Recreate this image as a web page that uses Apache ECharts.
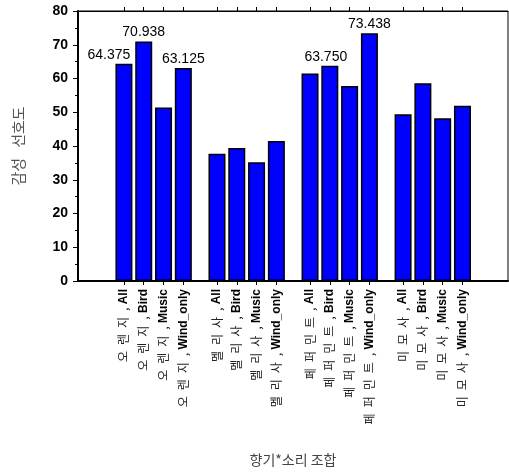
<!DOCTYPE html>
<html><head><meta charset="utf-8">
<script src="https://cdn.jsdelivr.net/npm/echarts@6/dist/echarts.min.js"></script>
<style>html,body{margin:0;padding:0;background:#fff}#c{width:509px;height:472px}</style>
</head><body><div id="c"></div>
<script>
const scents = ['오렌지', '멜리사', '페퍼민트', '미모사'];
const sounds = ['All', 'Bird', 'Music', 'Wind_only'];
const values = [
  [64.375, 70.938, 51.4, 63.125],
  [37.7, 39.4, 35.2, 41.5],
  [61.5, 63.750, 57.8, 73.438],
  [49.4, 58.6, 48.2, 51.9]
];
const labeled = [
  [true, true, false, true],
  [false, false, false, false],
  [false, true, false, true],
  [false, false, false, false]
];
const yTicks = [0, 10, 20, 30, 40, 50, 60, 70, 80];

const GROUP_STEP = 4.7;
const positions = [], labelMap = {}, data = [];
scents.forEach((s, g) => {
  sounds.forEach((snd, i) => {
    const x = +(g * GROUP_STEP + i).toFixed(2);
    positions.push(x);
    labelMap[Math.round(x * 100)] = {k: s.split('').join('\u2002'), e: snd};
    const item = {value: [x, values[g][i]]};
    if (labeled[g][i]) {
      item.label = {show: true};
      if (g === 0 && i === 0) item.label.offset = [-15, 0];
      if (g === 2 && i === 1) item.label.offset = [-4, 0];
    }
    data.push(item);
  });
});
const xMin = -2.32, xMax = positions[positions.length - 1] + 2.3;

const chart = echarts.init(document.getElementById('c'));
chart.setOption({
  animation: false,
  grid: {left: 78, right: 1, top: 11, bottom: 191, show: true, borderColor: '#000', borderWidth: 1,
         containLabel: false, outerBoundsMode: 'none'},
  xAxis: [{
    type: 'value', min: xMin, max: xMax, position: 'bottom',
    splitLine: {show: false},
    axisLine: {show: true, onZero: false, lineStyle: {color: '#000', width: 2}},
    axisTick: {show: true, customValues: positions, length: 4, lineStyle: {color: '#000'}},
    axisLabel: {
      customValues: positions, rotate: 90, margin: 8,
      formatter: v => { const l = labelMap[Math.round(v * 100)]; return l ? '{k|' + l.k + '\u2002,}{e| ' + l.e + '}' : ''; },
      rich: {
        k: {fontFamily: 'Noto Sans CJK KR', fontSize: 12, color: '#222'},
        e: {fontFamily: 'Liberation Sans, Arial', fontSize: 12, fontWeight: 'bold', color: '#000'}
      }
    },
    name: '향기*소리 조합', nameLocation: 'middle', nameGap: 172,
    nameTextStyle: {fontFamily: 'Noto Sans CJK KR', fontSize: 14, color: '#444'}
  }, {
    type: 'value', min: xMin, max: xMax, position: 'top',
    splitLine: {show: false},
    axisLine: {show: true, onZero: false, lineStyle: {color: '#000', width: 1}},
    axisTick: {show: true, customValues: positions, length: 4, lineStyle: {color: '#000'}},
    axisLabel: {show: false}
  }],
  yAxis: {
    type: 'value', min: yTicks[0], max: yTicks[yTicks.length - 1], interval: 10,
    splitLine: {show: false},
    axisLine: {show: true, onZero: false, lineStyle: {color: '#000', width: 2}},
    axisTick: {show: true, length: 5, lineStyle: {color: '#000'}},
    minorTick: {show: true, splitNumber: 2, length: 3, lineStyle: {color: '#000'}},
    axisLabel: {margin: 10, fontFamily: 'Liberation Sans, Arial', fontSize: 14, fontWeight: 'bold', color: '#000'},
    name: '감성   선호도', nameLocation: 'middle', nameRotate: 90, nameGap: 52,
    nameTextStyle: {fontFamily: 'Noto Sans CJK KR', fontSize: 15, color: '#555'}
  },
  series: [{
    type: 'bar', xAxisIndex: 0, barWidth: 17, data: data,
    itemStyle: {color: '#0000FF', borderColor: '#000', borderWidth: 1.5},
    label: {show: false, position: 'top', distance: 2, formatter: p => p.value[1].toFixed(3),
      fontFamily: 'Liberation Sans, Arial', fontSize: 14, color: '#000'}
  }]
});
</script></body></html>
